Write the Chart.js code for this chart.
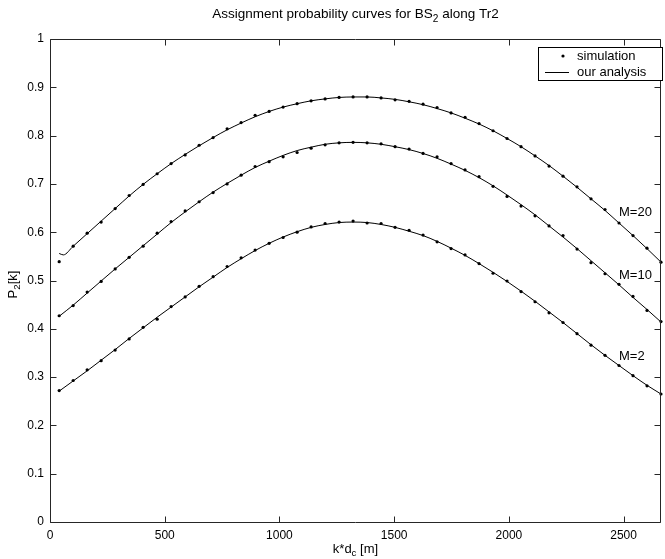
<!DOCTYPE html>
<html>
<head>
<meta charset="utf-8">
<script src="https://cdn.jsdelivr.net/npm/chart.js@4/dist/chart.umd.min.js"></script>
<style>
 html,body{margin:0;padding:0;background:#fff;}
 #wrap{width:665px;height:559px;}
</style>
</head>
<body>
<div id="wrap"><canvas id="chart" width="665" height="559"></canvas></div>
<script>
// distance along the track (k*d_c), one value per simulation point
const distance=[40,101,162,223,284,345,406,467,528,589,650,711,772,833,894,955,1016,1077,1138,1199,1260,1321,1382,1443,1504,1565,1626,1687,1748,1809,1870,1931,1992,2053,2114,2175,2236,2297,2358,2419,2480,2541,2602,2663];

// simulation points
const simM20=[0.539,0.571,0.598,0.621,0.649,0.676,0.699,0.721,0.742,0.760,0.780,0.796,0.814,0.827,0.842,0.850,0.859,0.866,0.872,0.876,0.879,0.880,0.880,0.878,0.874,0.871,0.865,0.858,0.847,0.838,0.825,0.810,0.794,0.777,0.758,0.737,0.716,0.694,0.669,0.647,0.619,0.593,0.567,0.538];
const simM10=[0.427,0.448,0.476,0.498,0.524,0.548,0.571,0.598,0.622,0.644,0.663,0.682,0.700,0.718,0.736,0.746,0.756,0.765,0.774,0.781,0.785,0.786,0.785,0.783,0.777,0.772,0.763,0.756,0.742,0.729,0.715,0.695,0.674,0.654,0.634,0.613,0.593,0.565,0.537,0.514,0.492,0.467,0.438,0.415];
const simM2=[0.272,0.293,0.315,0.334,0.356,0.379,0.403,0.420,0.446,0.466,0.488,0.508,0.529,0.547,0.563,0.577,0.589,0.600,0.611,0.618,0.621,0.623,0.619,0.618,0.610,0.604,0.594,0.580,0.566,0.553,0.535,0.515,0.499,0.477,0.456,0.433,0.413,0.390,0.366,0.345,0.324,0.303,0.282,0.265];

// analysis curves (M=20 has a short hook at the start)
const lineX20=[40,58,101,162,223,284,345,406,467,528,589,650,711,772,833,894,955,1016,1077,1138,1199,1260,1321,1382,1443,1504,1565,1626,1687,1748,1809,1870,1931,1992,2053,2114,2175,2236,2297,2358,2419,2480,2541,2602,2663];
const anaM20=[0.556,0.553,0.571,0.597,0.623,0.649,0.675,0.699,0.721,0.742,0.761,0.779,0.796,0.812,0.826,0.839,0.850,0.859,0.866,0.872,0.876,0.879,0.880,0.880,0.878,0.875,0.870,0.864,0.856,0.847,0.836,0.824,0.810,0.794,0.777,0.758,0.738,0.716,0.693,0.669,0.645,0.619,0.593,0.566,0.538];
const anaM10=[0.426,0.449,0.474,0.499,0.524,0.548,0.572,0.596,0.620,0.642,0.663,0.683,0.701,0.718,0.734,0.747,0.759,0.769,0.776,0.782,0.785,0.786,0.785,0.782,0.777,0.771,0.763,0.753,0.741,0.728,0.713,0.696,0.677,0.657,0.636,0.613,0.590,0.566,0.541,0.516,0.491,0.465,0.440,0.414];
const anaM2=[0.271,0.292,0.313,0.335,0.357,0.380,0.402,0.424,0.445,0.466,0.487,0.507,0.527,0.545,0.562,0.577,0.590,0.601,0.610,0.616,0.620,0.621,0.620,0.616,0.610,0.602,0.593,0.581,0.567,0.552,0.535,0.517,0.498,0.478,0.457,0.435,0.413,0.390,0.367,0.345,0.324,0.303,0.283,0.265];

const xTicks=[0,500,1000,1500,2000,2500];
const yTicks=[0,0.1,0.2,0.3,0.4,0.5,0.6,0.7,0.8,0.9,1];

// curve names and where they are written (data coords)
const curveNames=["M=20","M=10","M=2"];
const curveNameX=[2480,2480,2480];
const curveNameY=[0.640,0.510,0.342];

const FONT="'Liberation Sans', Arial, Helvetica, sans-serif";

function pts(xs,ys){return xs.map((x,i)=>({x:x,y:ys[i]}));}

function lineSet(xs,ys){
 return {type:"line",data:pts(xs,ys),showLine:true,borderColor:"#000",borderWidth:1,pointRadius:0,
  cubicInterpolationMode:"monotone",fill:false,clip:2,order:2};
}
function dotSet(ys){
 return {type:"scatter",data:pts(distance,ys),showLine:false,pointRadius:1.6,pointBorderWidth:0,
  backgroundColor:"#000",borderColor:"#000",clip:4,order:1};
}

// draws text with a lowered small part: parts = [[text,isSub],...]
function partsWidth(ctx,parts,size){
 let w=0;
 parts.forEach(p=>{ctx.font=(p[1]?size*0.75:size)+"px "+FONT;w+=ctx.measureText(p[0]).width;});
 return w;
}
function drawParts(ctx,parts,x,y,size){
 parts.forEach(p=>{
  ctx.font=(p[1]?size*0.75:size)+"px "+FONT;
  ctx.fillText(p[0],x,p[1]?y+size*0.35:y);
  x+=ctx.measureText(p[0]).width;
 });
}

const matlabAxes={
 id:"matlabAxes",
 afterDraw(chart){
  const ctx=chart.ctx,a=chart.chartArea,xs=chart.scales.x,ys=chart.scales.y;
  const L=Math.round(a.left)+0.5,R=Math.round(a.right)-0.5,T=Math.round(a.top)+0.5,B=Math.round(a.bottom)+0.5;
  ctx.save();
  ctx.strokeStyle="#262626";
  ctx.lineWidth=1;
  ctx.beginPath();
  ctx.rect(L,T,R-L,B-T);
  xTicks.forEach(v=>{
   let px=Math.round(xs.getPixelForValue(v))+0.5;
   ctx.moveTo(px,B);ctx.lineTo(px,B-6);
   ctx.moveTo(px,T);ctx.lineTo(px,T+6);
  });
  yTicks.forEach(v=>{
   let py=Math.round(ys.getPixelForValue(v))+0.5;
   ctx.moveTo(L,py);ctx.lineTo(L+6,py);
   ctx.moveTo(R,py);ctx.lineTo(R-6,py);
  });
  ctx.stroke();

  ctx.fillStyle="#000";
  ctx.textBaseline="middle";
  ctx.textAlign="left";

  // title
  let title=[["Assignment probability curves for BS",false],["2",true],[" along Tr2",false]];
  let tw=partsWidth(ctx,title,13.5);
  drawParts(ctx,title,(a.left+a.right)/2-tw/2,14,13.5);

  // x title
  let xt=[["k*d",false],["c",true],[" [m]",false]];
  let xw=partsWidth(ctx,xt,13);
  drawParts(ctx,xt,(a.left+a.right)/2-xw/2,549,13);

  // y title, rotated
  ctx.save();
  ctx.translate(13,(a.top+a.bottom)/2+4);
  ctx.rotate(-Math.PI/2);
  let yt=[["P",false],["2",true],["[k]",false]];
  let yw=partsWidth(ctx,yt,13);
  drawParts(ctx,yt,-yw/2,0,13);
  ctx.restore();

  // curve names
  ctx.font="13px "+FONT;
  curveNames.forEach((n,i)=>{
   ctx.fillText(n,xs.getPixelForValue(curveNameX[i]),ys.getPixelForValue(curveNameY[i]));
  });

  // legend
  let lx=538.5,ly=47.5,lw=124,lh=33;
  ctx.fillStyle="#fff";
  ctx.fillRect(lx,ly,lw,lh);
  ctx.strokeStyle="#000";
  ctx.strokeRect(lx,ly,lw,lh);
  ctx.fillStyle="#000";
  ctx.beginPath();
  ctx.arc(563,56,1.6,0,Math.PI*2);
  ctx.fill();
  ctx.beginPath();
  ctx.moveTo(545,72.5);ctx.lineTo(569,72.5);
  ctx.stroke();
  ctx.font="13px "+FONT;
  ctx.fillText("simulation",577,56);
  ctx.fillText("our analysis",577,72);
  ctx.restore();
 }
};

function fmt(v){return String(+(+v).toFixed(1));}

new Chart(document.getElementById("chart"),{
 data:{datasets:[
  lineSet(lineX20,anaM20),
  lineSet(distance,anaM10),
  lineSet(distance,anaM2),
  dotSet(simM20),
  dotSet(simM10),
  dotSet(simM2)
 ]},
 options:{
  responsive:false,
  animation:false,
  layout:{padding:{top:39,left:0,right:1,bottom:0}},
  plugins:{legend:{display:false},title:{display:false},tooltip:{enabled:false}},
  scales:{
   x:{type:"linear",min:0,max:2663,
    grid:{display:false,drawTicks:false},border:{display:false},
    afterBuildTicks:s=>{s.ticks=xTicks.map(v=>({value:v}));},
    ticks:{autoSkip:false,maxRotation:0,padding:6,color:"#000",font:{family:FONT,size:12},callback:v=>String(v)},
    afterFit:s=>{s.height=37;}},
   y:{type:"linear",min:0,max:1,
    grid:{display:false,drawTicks:false},border:{display:false},
    afterBuildTicks:s=>{s.ticks=yTicks.map(v=>({value:v}));},
    ticks:{autoSkip:false,padding:6,color:"#000",font:{family:FONT,size:12},callback:fmt},
    afterFit:s=>{s.width=50;}}
  }
 },
 plugins:[matlabAxes]
});
</script>
</body>
</html>
